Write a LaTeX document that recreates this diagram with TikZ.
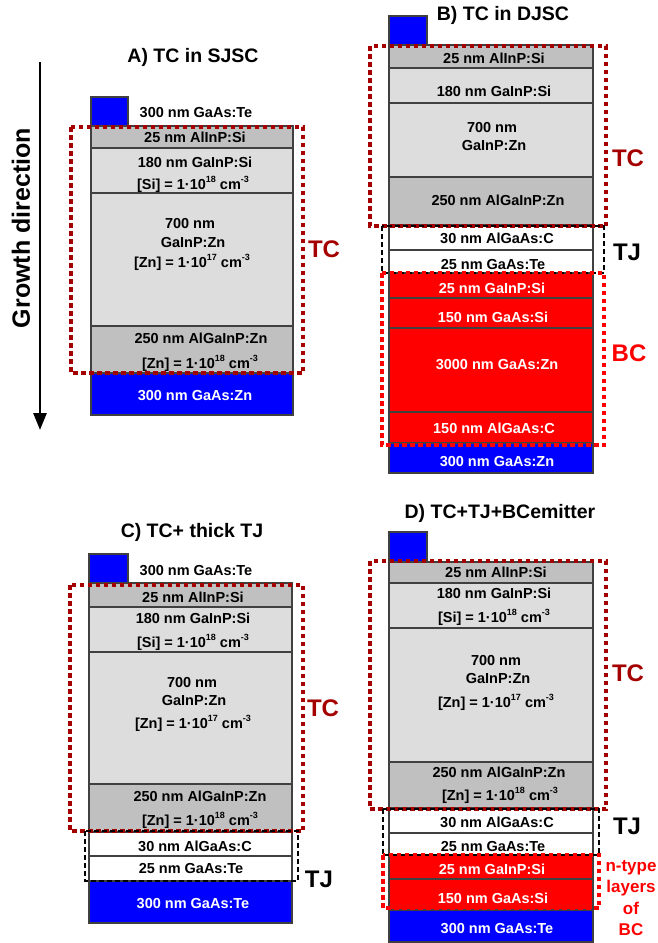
\documentclass[tikz,border=0pt]{standalone}
\usepackage{fontspec}
\setmainfont{Liberation Sans}
\usetikzlibrary{arrows.meta}
\definecolor{dkgray}{RGB}{192,192,192}
\definecolor{ltgray}{RGB}{221,221,221}
\definecolor{laycol}{RGB}{64,64,64}
\definecolor{tcred}{RGB}{165,0,0}
\definecolor{bcred}{RGB}{255,0,0}
\definecolor{layblue}{RGB}{0,0,255}
\newcommand\sps[1]{\raisebox{6.5pt}{\fontsize{9}{9}\selectfont #1}}
\tikzset{
  lay/.style={draw=laycol, line width=1.2pt},
  dk/.style={lay, fill=dkgray},
  lt/.style={lay, fill=ltgray},
  wh/.style={lay, fill=white},
  rd/.style={lay, fill=bcred},
  bl/.style={lay, fill=layblue},
  txt/.style={font=\fontsize{14.5}{16}\selectfont\bfseries, inner sep=0pt, text height=10.4pt, text depth=0pt},
  wtxt/.style={txt, text=white},
  ttl/.style={font=\fontsize{19.5}{22}\selectfont\bfseries, inner sep=0pt, text height=14pt, text depth=0pt},
  biglab/.style={font=\fontsize{24}{26}\selectfont\bfseries, inner sep=0pt, text height=17.2pt, text depth=0pt},
  nlab/.style={font=\fontsize{17}{19}\selectfont\bfseries, inner sep=0pt, text=bcred},
  tcbox/.style={draw=tcred, line width=3.6pt, dash pattern=on 4.5pt off 3.5pt},
  tjbox/.style={draw=black, line width=2.6pt, dash pattern=on 5pt off 3pt},
  bcbox/.style={draw=bcred, line width=3.6pt, dash pattern=on 4.5pt off 3.5pt},
}
\begin{document}
\begin{tikzpicture}[x=1pt, y=-1pt]
\useasboundingbox (0,0) rectangle (657,943);

% ---------------- growth arrow
\coordinate (gtop) at (40,62);
\coordinate (gbot) at (40,430);
\draw[line width=2.8pt, -{Triangle[length=17pt,width=13pt]}] (gtop) -- (gbot);
\node[font=\fontsize{25}{27}\selectfont\bfseries, rotate=90, inner sep=0pt] (growth) at (21,228) {Growth direction};

% ================= Panel A
\node[ttl] (titleA) at (193,55) {A) TC in SJSC};
\draw[bl] (91,97) rectangle (128,126);
\node[txt] (aCap) at (196,112) {300 nm GaAs:Te};
\draw[dk] (91,126) rectangle (293,148);
\draw[lt] (91,148) rectangle (293,193);
\draw[lt] (91,193) rectangle (293,326);
\draw[dk] (91,326) rectangle (293,373);
\draw[bl] (91,373) rectangle (293,415);
\node[txt] (a1) at (195,137) {25 nm AlInP:Si};
\node[txt] (a2a) at (195,162) {180 nm GaInP:Si};
\node[txt] (a2b) at (193,184) {[Si] = 1·10\sps{18} cm\sps{-3}};
\node[txt] (a3a) at (190,223) {700 nm};
\node[txt] (a3b) at (193,242) {GaInP:Zn};
\node[txt] (a3c) at (192,262) {[Zn] = 1·10\sps{17} cm\sps{-3}};
\node[txt] (a4a) at (201,338) {250 nm AlGaInP:Zn};
\node[txt] (a4b) at (200,363) {[Zn] = 1·10\sps{18} cm\sps{-3}};
\node[wtxt] (a5) at (195,395) {300 nm GaAs:Zn};
\draw[tcbox] (71,127) rectangle (303,373);
\node[biglab, text=tcred] (aTC) at (324,249) {TC};

% ================= Panel B
\node[ttl] (titleB) at (503,13) {B) TC in DJSC};
\draw[bl] (389,16) rectangle (427,45);
\draw[dk] (389,45) rectangle (593,68);
\draw[lt] (389,68) rectangle (593,103);
\draw[lt] (389,103) rectangle (593,177);
\draw[dk] (389,177) rectangle (593,225);
\draw[wh] (389,225) rectangle (593,250);
\draw[wh] (389,250) rectangle (593,273);
\draw[rd] (389,273) rectangle (593,298);
\draw[rd] (389,298) rectangle (593,328);
\draw[rd] (389,328) rectangle (593,412);
\draw[rd] (389,412) rectangle (593,443);
\draw[bl] (389,443) rectangle (593,473);
\node[txt] (b1) at (494,58) {25 nm AlInP:Si};
\node[txt] (b2) at (494,91) {180 nm GaInP:Si};
\node[txt] (b3a) at (492,127) {700 nm};
\node[txt] (b3b) at (494,145) {GaInP:Zn};
\node[txt] (b4) at (498,200) {250 nm AlGaInP:Zn};
\node[txt] (b5) at (497,238) {30 nm AlGaAs:C};
\node[txt] (b6) at (493,264) {25 nm GaAs:Te};
\node[wtxt] (b7) at (492,288) {25 nm GaInP:Si};
\node[wtxt] (b8) at (493,317) {150 nm GaAs:Si};
\node[wtxt] (b9) at (497,364) {3000 nm GaAs:Zn};
\node[wtxt] (b10) at (494,428) {150 nm AlGaAs:C};
\node[wtxt] (b11) at (497,461) {300 nm GaAs:Zn};
\draw[tcbox] (370,46) rectangle (606,226);
\draw[tjbox] (382,226) rectangle (604,273);
\draw[bcbox] (382,273) rectangle (604,445);
\node[biglab, text=tcred] (bTC) at (628,158) {TC};
\node[biglab] (bTJ) at (627,252) {TJ};
\node[biglab, text=bcred] (bBC) at (629,353) {BC};

% ================= Panel C
\node[ttl] (titleC) at (192,530) {C) TC+ thick TJ};
\draw[bl] (89,554) rectangle (128,583);
\node[txt] (cCap) at (196,570) {300 nm GaAs:Te};
\draw[dk] (89,583) rectangle (292,607);
\draw[lt] (89,607) rectangle (292,652);
\draw[lt] (89,652) rectangle (292,784);
\draw[dk] (89,784) rectangle (292,832);
\draw[wh] (89,832) rectangle (292,856);
\draw[wh] (89,856) rectangle (292,881);
\draw[bl] (89,881) rectangle (292,923);
\node[txt] (c1) at (193,597) {25 nm AlInP:Si};
\node[txt] (c2a) at (193,618) {180 nm GaInP:Si};
\node[txt] (c2b) at (193,642) {[Si] = 1·10\sps{18} cm\sps{-3}};
\node[txt] (c3a) at (192,682) {700 nm};
\node[txt] (c3b) at (194,700) {GaInP:Zn};
\node[txt] (c3c) at (193,723) {[Zn] = 1·10\sps{17} cm\sps{-3}};
\node[txt] (c4a) at (200,796) {250 nm AlGaInP:Zn};
\node[txt] (c4b) at (200,820) {[Zn] = 1·10\sps{18} cm\sps{-3}};
\node[txt] (c5) at (195,846) {30 nm AlGaAs:C};
\node[txt] (c6) at (191,868) {25 nm GaAs:Te};
\node[wtxt] (c7) at (193,903) {300 nm GaAs:Te};
\draw[tcbox] (70,585) rectangle (303,831);
\draw[tjbox] (85,831) rectangle (298,881);
\node[biglab, text=tcred] (cTC) at (323,708) {TC};
\node[biglab] (cTJ) at (319,879) {TJ};

% ================= Panel D
\node[ttl] (titleD) at (500,511) {D) TC+TJ+BCemitter};
\draw[bl] (389,532) rectangle (427,562);
\draw[dk] (389,562) rectangle (593,583);
\draw[lt] (389,583) rectangle (593,628);
\draw[lt] (389,628) rectangle (593,762);
\draw[dk] (389,762) rectangle (593,808);
\draw[wh] (389,808) rectangle (593,833);
\draw[wh] (389,833) rectangle (593,855);
\draw[rd] (389,855) rectangle (593,879);
\draw[rd] (389,879) rectangle (593,910);
\draw[bl] (389,910) rectangle (593,942);
\node[txt] (d1) at (496,572) {25 nm AlInP:Si};
\node[txt] (d2a) at (494,593) {180 nm GaInP:Si};
\node[txt] (d2b) at (494,617) {[Si] = 1·10\sps{18} cm\sps{-3}};
\node[txt] (d3a) at (496,660) {700 nm};
\node[txt] (d3b) at (498,678) {GaInP:Zn};
\node[txt] (d3c) at (496,702) {[Zn] = 1·10\sps{17} cm\sps{-3}};
\node[txt] (d4a) at (499,772) {250 nm AlGaInP:Zn};
\node[txt] (d4b) at (500,795) {[Zn] = 1·10\sps{18} cm\sps{-3}};
\node[txt] (d5) at (497,822) {30 nm AlGaAs:C};
\node[txt] (d6) at (493,846) {25 nm GaAs:Te};
\node[wtxt] (d7) at (492,869) {25 nm GaInP:Si};
\node[wtxt] (d8) at (493,898) {150 nm GaAs:Si};
\node[wtxt] (d9) at (497,928) {300 nm GaAs:Te};
\draw[tcbox] (370,561) rectangle (606,809);
\draw[tjbox] (383,809) rectangle (599,855);
\draw[bcbox] (383,855) rectangle (599,908);
\node[biglab, text=tcred] (dTC) at (628,673) {TC};
\node[biglab] (dTJ) at (627,826) {TJ};
\node[nlab] (dn1) at (631,868) {n-type};
\node[nlab] (dn2) at (631,888) {layers};
\node[nlab] (dn3) at (631,908) {of};
\node[nlab] (dn4) at (631,930) {BC};
\end{tikzpicture}
\end{document}
